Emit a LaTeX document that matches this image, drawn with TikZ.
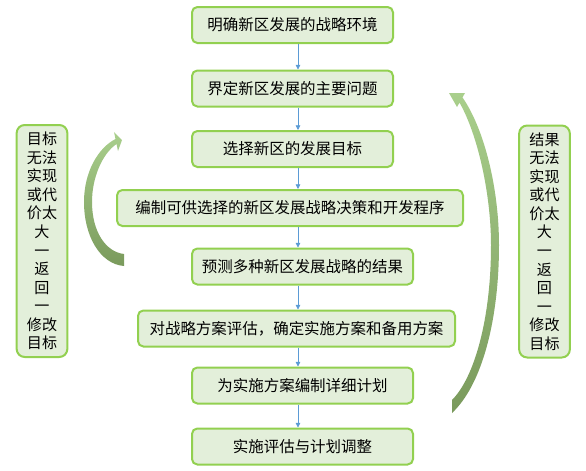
\documentclass[tikz,border=0pt]{standalone}
\usepackage{fontspec}
\setmainfont{Noto Sans CJK SC}
\usetikzlibrary{arrows.meta}
\definecolor{boxfill}{HTML}{E3EFDA}
\definecolor{boxline}{HTML}{92D050}
\definecolor{flowblue}{HTML}{5B9BD5}
\definecolor{arcdark}{HTML}{7A9A5C}
\definecolor{arclight}{HTML}{A9CF8C}
\begin{document}
\begin{tikzpicture}[x=0.75pt, y=-0.75pt,
  stepbox/.style={draw=boxline, line width=1.5pt, fill=boxfill, rounded corners=4pt,
    minimum height=27pt, inner sep=0pt, font=\fontsize{11.6pt}{14pt}\selectfont, text=black},
  sidebox/.style={draw=boxline, line width=1.5pt, fill=boxfill, rounded corners=6pt,
    minimum width=38pt, minimum height=174pt, inner sep=0pt, align=center,
    font=\fontsize{11.3pt}{13.9pt}\selectfont, text=black},
  flow/.style={draw=flowblue, line width=0.6pt, -{Triangle[width=3.5pt,length=3.5pt]}}]
\useasboundingbox (0,0) rectangle (586,471);
\coordinate (axis) at (298,0);
% main steps
\node[stepbox, minimum width=150.75pt] (env) at (292.5,25) {明确新区发展的战略环境};
\node[stepbox, minimum width=150.75pt] (issue) at (292.5,88.5) {界定新区发展的主要问题};
\node[stepbox, minimum width=150.75pt] (goal) at (292.5,149) {选择新区的发展目标};
\node[stepbox, minimum width=259.5pt] (plan) at (290,208) {编制可供选择的新区发展战略决策和开发程序};
\node[stepbox, minimum width=165.75pt] (predict) at (302.5,266.5) {预测多种新区发展战略的结果};
\node[stepbox, minimum width=237.75pt] (assess) at (296.5,328.5) {对战略方案评估，确定实施方案和备用方案};
\node[stepbox, minimum width=165.75pt] (detail) at (302.5,385.5) {为实施方案编制详细计划};
\node[stepbox, minimum width=165.75pt] (adjust) at (302.5,446.5) {实施评估与计划调整};
\draw[flow] (env.south -| axis) -- (issue.north -| axis);
\draw[flow] (issue.south -| axis) -- (goal.north -| axis);
\draw[flow] (goal.south -| axis) -- (plan.north -| axis);
\draw[flow] (plan.south -| axis) -- (predict.north -| axis);
\draw[flow] (predict.south -| axis) -- (assess.north -| axis);
\draw[flow] (assess.south -| axis) -- (detail.north -| axis);
\draw[flow] (detail.south -| axis) -- (adjust.north -| axis);
% feedback notes
\node[sidebox] (backleft) at (42,241) {目标\\无法\\实现\\或代\\价太\\大\\一\\返\\回\\一\\修改\\目标};
\node[sidebox] (backright) at (544.5,241.5) {结果\\无法\\实现\\或代\\价太\\大\\一\\返\\回\\一\\修改\\目标};
% curved return arrows
\shade[top color=arclight, middle color=white!96!arclight, bottom color=arcdark]
  (124,254) -- (124,266) .. controls (100,264) and (84,236) .. (84,202)
  .. controls (84,172) and (98,148) .. (115.5,139) -- (114,132) -- (122,140) -- (118,151)
  -- (116.5,144) .. controls (102,154) and (92,178) .. (92,202)
  .. controls (92,232) and (106,252) .. (124,254) -- cycle;
\shade[top color=arclight, middle color=white!96!arclight, bottom color=arcdark]
  (462.5,97.4) .. controls (485,130) and (499,190) .. (499,245)
  .. controls (499,320) and (482,385) .. (452,413) -- (452,400)
  .. controls (474,378) and (491,320) .. (491,245)
  .. controls (491,195) and (478,135) .. (459.5,102.6) -- (457,107) -- (449,93) -- (465,93) -- cycle;
\end{tikzpicture}
\end{document}
